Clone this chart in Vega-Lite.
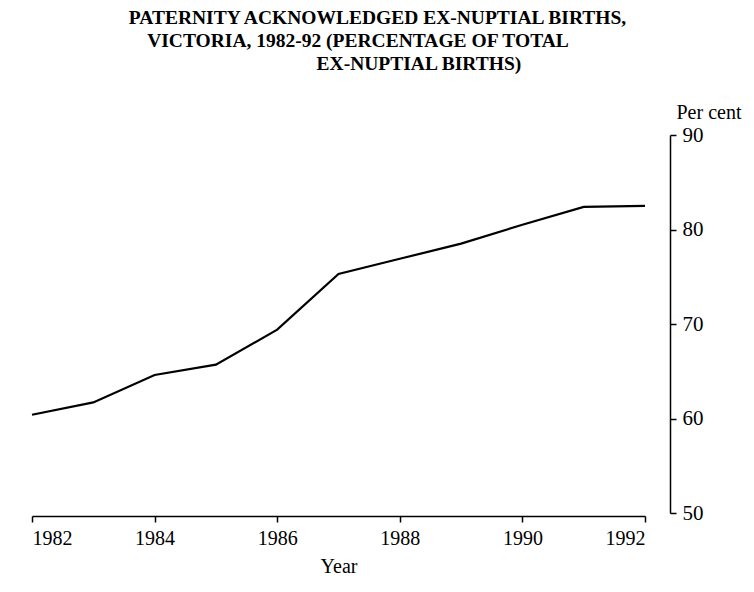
{
  "$schema": "https://vega.github.io/schema/vega-lite/v6.json",
  "autosize": {"type": "none"},
  "width": 613,
  "height": 378,
  "padding": {"left": 32, "top": 135, "right": 109, "bottom": 79},
  "background": "white",
  "title": {
    "text": [
      "PATERNITY ACKNOWLEDGED EX-NUPTIAL BIRTHS,",
      "VICTORIA, 1982-92 (PERCENTAGE OF TOTAL\u00a0\u00a0\u00a0\u00a0\u00a0\u00a0\u00a0\u00a0\u200b",
      "\u200b\u00a0\u00a0\u00a0\u00a0\u00a0\u00a0\u00a0\u00a0\u00a0\u00a0\u00a0\u00a0\u00a0\u00a0\u00a0\u00a0\u00a0EX-NUPTIAL BIRTHS)"
    ],
    "font": "Liberation Serif",
    "fontSize": 19.5,
    "fontWeight": "bold",
    "color": "black",
    "anchor": "middle",
    "frame": "group",
    "dx": 39,
    "offset": 28,
    "lineHeight": 23
  },
  "config": {
    "view": {"stroke": null},
    "font": "Liberation Serif",
    "axis": {
      "grid": false,
      "domainColor": "black",
      "tickColor": "black",
      "labelColor": "black",
      "titleColor": "black",
      "labelFont": "Liberation Serif",
      "titleFont": "Liberation Serif",
      "titleFontWeight": "normal",
      "domainWidth": 1.5,
      "tickWidth": 1.5
    }
  },
  "data": {
    "values": [
      {"year": 1982, "pct": 60.4},
      {"year": 1983, "pct": 61.7},
      {"year": 1984, "pct": 64.6},
      {"year": 1985, "pct": 65.7},
      {"year": 1986, "pct": 69.4},
      {"year": 1987, "pct": 75.3},
      {"year": 1988, "pct": 76.9},
      {"year": 1989, "pct": 78.5},
      {"year": 1990, "pct": 80.5},
      {"year": 1991, "pct": 82.4},
      {"year": 1992, "pct": 82.5}
    ]
  },
  "mark": {"type": "line", "color": "black", "strokeWidth": 2.2},
  "encoding": {
    "x": {
      "field": "year",
      "type": "quantitative",
      "scale": {"domain": [1982, 1992], "nice": false, "zero": false},
      "axis": {
        "title": "Year",
        "values": [1982, 1984, 1986, 1988, 1990, 1992],
        "format": "d",
        "labelFontSize": 20,
        "titleFontSize": 20,
        "tickSize": 6,
        "labelPadding": 6,
        "titlePadding": 8,
        "offset": 3
      }
    },
    "y": {
      "field": "pct",
      "type": "quantitative",
      "scale": {"domain": [50, 90], "nice": false, "zero": false},
      "axis": {
        "orient": "right",
        "offset": 25,
        "title": "Per cent",
        "titleAngle": 0,
        "titleX": 6,
        "titleY": -17,
        "titleAlign": "left",
        "titleBaseline": "alphabetic",
        "titleFontSize": 20,
        "values": [50, 60, 70, 80, 90],
        "labelFontSize": 21,
        "tickSize": 6,
        "labelPadding": 6
      }
    }
  }
}
